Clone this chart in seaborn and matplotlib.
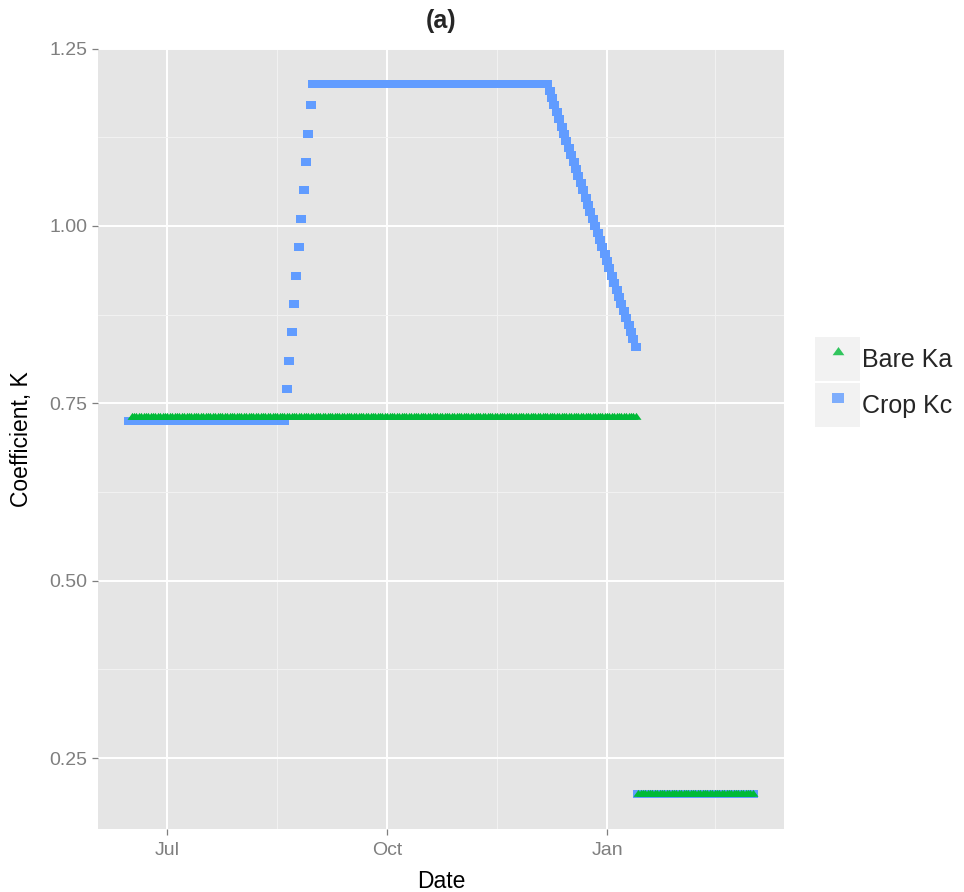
import numpy as np
import pandas as pd
import matplotlib
matplotlib.use("Agg")
import matplotlib.pyplot as plt
import matplotlib.dates as mdates
from matplotlib.patches import Rectangle
from matplotlib.lines import Line2D
from matplotlib.legend_handler import HandlerTuple
import seaborn as sns

# ---------------- data ----------------
series_names = ["Bare Ka", "Crop Kc"]
series_colors = ["#00BA38", "#619CFF"]

# Crop coefficient Kc (daily)
crop_ini_start, crop_ini_end, crop_ini_value = "2013-06-15", "2013-08-19", 0.725
crop_dev_start = "2013-08-20"
crop_dev_values = [0.77, 0.81, 0.85, 0.89, 0.93, 0.97, 1.01, 1.05, 1.09, 1.13, 1.17]
crop_mid_start, crop_mid_end, crop_mid_value = "2013-08-31", "2013-12-07", 1.20
crop_late_start = "2013-12-08"
crop_late_values = [1.19, 1.18, 1.17, 1.16, 1.15, 1.14, 1.13, 1.12, 1.11, 1.10,
                    1.09, 1.08, 1.07, 1.06, 1.05, 1.04, 1.03, 1.02, 1.01, 1.00,
                    0.99, 0.98, 0.97, 0.96, 0.95, 0.94, 0.93, 0.92, 0.91, 0.90,
                    0.89, 0.88, 0.87, 0.86, 0.85, 0.84, 0.83]
crop_fallow_start, crop_fallow_end, crop_fallow_value = "2014-01-14", "2014-03-03", 0.20

# Bare soil coefficient Ka (daily)
bare_season_start, bare_season_end, bare_season_value = "2013-06-16", "2014-01-13", 0.73
bare_fallow_start, bare_fallow_end, bare_fallow_value = "2014-01-14", "2014-03-03", 0.20

x_tick_months = ["2013-04-01", "2013-07-01", "2013-10-01", "2014-01-01", "2014-04-01"]
y_ticks = [0.25, 0.50, 0.75, 1.00, 1.25]


def const_seg(start, end, value):
    d = pd.date_range(start, end, freq="D")
    return list(d), [value] * len(d)


def list_seg(start, values):
    d = pd.date_range(start, periods=len(values), freq="D")
    return list(d), list(values)


crop_dates, crop_vals = [], []
for d, v in [const_seg(crop_ini_start, crop_ini_end, crop_ini_value),
             list_seg(crop_dev_start, crop_dev_values),
             const_seg(crop_mid_start, crop_mid_end, crop_mid_value),
             list_seg(crop_late_start, crop_late_values),
             const_seg(crop_fallow_start, crop_fallow_end, crop_fallow_value)]:
    crop_dates += d
    crop_vals += v

bare_dates, bare_vals = [], []
for d, v in [const_seg(bare_season_start, bare_season_end, bare_season_value),
             const_seg(bare_fallow_start, bare_fallow_end, bare_fallow_value)]:
    bare_dates += d
    bare_vals += v

df = pd.concat([
    pd.DataFrame({"Date": crop_dates, "K": crop_vals, "Type": series_names[1]}),
    pd.DataFrame({"Date": bare_dates, "K": bare_vals, "Type": series_names[0]}),
], ignore_index=True)

# ---------------- style ----------------
sns.set_theme(style="white")
plt.rcParams["font.family"] = ["Liberation Sans", "DejaVu Sans"]

W, H = 964, 892
fig = plt.figure(figsize=(W / 100, H / 100), dpi=100)
pl, pr, pt, pb = 98, 784, 48.5, 829
ax = fig.add_axes([pl / W, 1 - pb / H, (pr - pl) / W, (pb - pt) / H])
ax.set_facecolor("#E5E5E5")
for s in ax.spines.values():
    s.set_visible(False)

# custom markers (ggplot-like, slightly wide)
sq_marker = [(-1.2, -1.0), (1.2, -1.0), (1.2, 1.0), (-1.2, 1.0), (-1.2, -1.0)]
tri_marker = [(0.0, 1.0), (-1.08, -0.5), (1.08, -0.5), (0.0, 1.0)]

crop_df = df[df["Type"] == series_names[1]]
bare_df = df[df["Type"] == series_names[0]]
sns.scatterplot(data=crop_df, x="Date", y="K", ax=ax, marker=sq_marker, s=46,
                color=series_colors[1], linewidth=0, legend=False, zorder=3)
sns.scatterplot(data=bare_df, x="Date", y="K", ax=ax, marker=tri_marker, s=52,
                color=series_colors[0], linewidth=0, legend=False, zorder=4)

# limits with ggplot-like 5% expansion
xnum = mdates.date2num(df["Date"])
xr = xnum.max() - xnum.min()
xlim = (xnum.min() - 0.05 * xr, xnum.max() + 0.05 * xr)
yr = df["K"].max() - df["K"].min()
ylim = (df["K"].min() - 0.05 * yr, df["K"].max() + 0.05 * yr)

# ticks
xmaj = [mdates.date2num(pd.Timestamp(s)) for s in x_tick_months]
xminor = [(a + b) / 2 for a, b in zip(xmaj[:-1], xmaj[1:])]
xminor = [m for m in xminor if xlim[0] <= m <= xlim[1]]
ax.set_xticks([m for m in xmaj if xlim[0] <= m <= xlim[1]])
ax.xaxis.set_major_formatter(mdates.DateFormatter("%b"))
ax.set_xticks(xminor, minor=True)
ax.set_yticks(y_ticks)
ax.set_yticklabels([f"{v:.2f}" for v in y_ticks])
ymin_ticks = [(a + b) / 2 for a, b in zip(y_ticks[:-1], y_ticks[1:])]
ax.set_yticks(ymin_ticks, minor=True)
ax.set_xlim(*xlim)
ax.set_ylim(*ylim)

ax.grid(which="major", color="white", linewidth=1.4)
ax.grid(which="minor", color="#F2F2F2", linewidth=0.7)
ax.set_axisbelow(True)
ax.tick_params(which="major", length=4.5, width=0.9, color="#7F7F7F",
               labelcolor="#7F7F7F", labelsize=14, pad=3)
ax.tick_params(axis="x", which="major", pad=5)
ax.tick_params(which="minor", length=0)
ax.tick_params(left=True, bottom=True)

ax.set_xlabel("Date", fontsize=16.5, color="black")
ax.set_ylabel("Coefficient, K", fontsize=16.5, color="black")
ax.xaxis.set_label_coords(0.5, -(870 - pb) / (pb - pt))
ax.yaxis.set_label_coords(-(98 - 33) / (pr - pl), 0.5)
ax.set_title("(a)", fontsize=18, fontweight="bold", pad=15)

# legend
bg = "#F2F2F2"
handles = []
for name, col, mk, ms in [(series_names[0], series_colors[0], tri_marker, 8.5),
                          (series_names[1], series_colors[1], sq_marker, 8.0)]:
    rect = Rectangle((0, 0), 1, 1, facecolor=bg, edgecolor="none")
    ln = Line2D([], [], linestyle="none", marker=mk, markersize=ms,
                markerfacecolor=col, markeredgewidth=0, alpha=0.8)
    handles.append((rect, ln))
leg = fig.legend(handles, series_names, handler_map={tuple: HandlerTuple(ndivide=1, pad=0)},
                 loc="upper left", bbox_to_anchor=(815 / W, 1 - 337 / H),
                 bbox_transform=fig.transFigure, frameon=False, fontsize=18,
                 handlelength=1.8, handleheight=2.35, handletextpad=0.1,
                 labelspacing=0.06, borderpad=0, borderaxespad=0)

fig.savefig("out.png", dpi=100)
